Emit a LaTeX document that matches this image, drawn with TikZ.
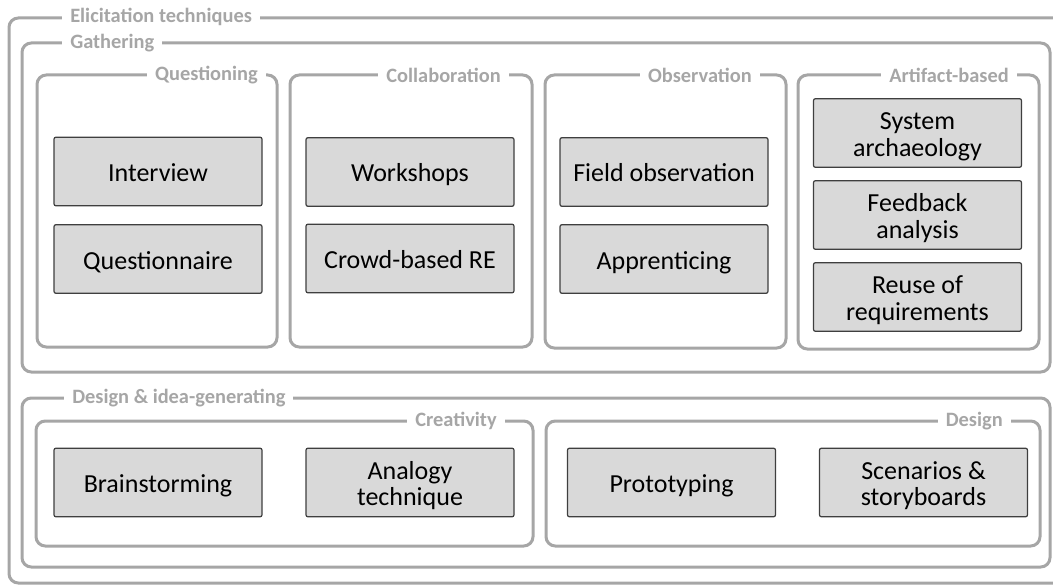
\documentclass[tikz,border=0pt]{standalone}
\usepackage{fontspec}
\setmainfont{Carlito}
\definecolor{framegray}{HTML}{A6A6A6}
\definecolor{labelgray}{HTML}{A6A6A6}
\definecolor{boxfill}{HTML}{D9D9D9}
\definecolor{boxline}{HTML}{3F3F3F}
\newcommand{\techstrut}{\rule[-5pt]{0pt}{25pt}}
\begin{document}
\begin{tikzpicture}[x=0.75pt,y=-0.75pt,
	framebox/.style={draw=framegray,line width=2.25pt,rounded corners=7pt},
	framelabel/.style={fill=white,text=labelgray,font=\bfseries\fontsize{15.3}{15.3}\selectfont,inner xsep=6pt,inner ysep=1pt},
	technique/.style={draw=boxline,fill=boxfill,line width=0.9pt,rounded corners=1.5pt,minimum width=156pt,minimum height=51.5pt,align=center,inner sep=0pt,font=\fontsize{19.5}{20}\selectfont,execute at begin node=\techstrut,execute at end node=\techstrut}]
		\useasboundingbox (0,0) rectangle (1053,588);
		\begin{scope}
			\clip (0,0) rectangle (1053,588);
			\draw[framebox] (9,18) rectangle (1075,583);
		\end{scope}
		\draw[framebox] (22,43) rectangle (1050,372);
		\draw[framebox] (37,75) rectangle (277,347);
		\draw[framebox] (290,75) rectangle (532,347);
		\draw[framebox] (545,75) rectangle (786,348);
		\draw[framebox] (798,75) rectangle (1039,349);
		\draw[framebox] (22,398) rectangle (1050,567);
		\draw[framebox] (36,421) rectangle (533,546);
		\draw[framebox] (546,421) rectangle (1040,546);
		\node[framelabel,anchor=west] (elicitation) at (62,17) {Elicitation techniques};
		\node[framelabel,anchor=west] (gathering) at (62,43) {Gathering};
		\node[framelabel,anchor=east] (questioning) at (266,75) {Questioning};
		\node[framelabel,anchor=east] (collaboration) at (509,75) {Collaboration};
		\node[framelabel,anchor=east] (observation) at (760,75) {Observation};
		\node[framelabel,anchor=east] (artifact) at (1017,75) {Artifact-based};
		\node[framelabel,anchor=west] (designidea) at (64,398) {Design \& idea-generating};
		\node[framelabel,anchor=east] (creativity) at (505,421) {Creativity};
		\node[framelabel,anchor=east] (design) at (1011,421) {Design};
		\node[technique] (interview) at (158,171.5) {Interview};
		\node[technique] (questionnaire) at (158,259) {Questionnaire};
		\node[technique] (workshops) at (410,172) {Workshops};
		\node[technique] (crowd) at (410,258.5) {Crowd-based RE};
		\node[technique] (field) at (664,172) {Field observation};
		\node[technique] (apprenticing) at (664,259) {Apprenticing};
		\node[technique] (archaeology) at (917.5,133) {\techstrut System\\archaeology};
		\node[technique] (feedback) at (917.5,215) {\techstrut Feedback\\analysis};
		\node[technique] (reuse) at (917.5,297) {\techstrut Reuse of\\requirements};
		\node[technique] (brainstorming) at (158,482.5) {Brainstorming};
		\node[technique] (analogy) at (410,482.5) {\techstrut Analogy\\technique};
		\node[technique] (prototyping) at (671.5,482.5) {Prototyping};
		\node[technique] (scenarios) at (923.5,482.5) {\techstrut Scenarios \&\\storyboards};
	\end{tikzpicture}
\end{document}
